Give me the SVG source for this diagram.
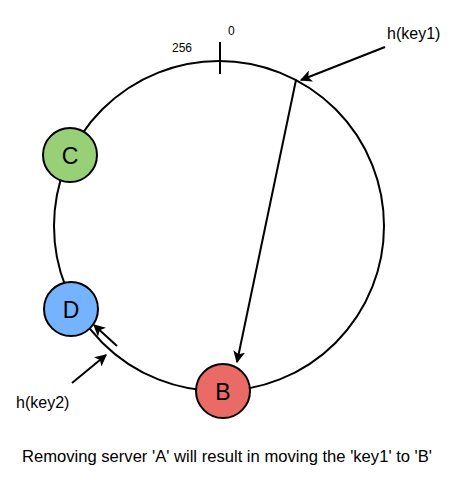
<svg xmlns="http://www.w3.org/2000/svg" width="451" height="480" viewBox="0 0 451 480">
<style>
.ln{fill:none;stroke:#000;stroke-width:2}
.nd{stroke:#000;stroke-width:2}
.t{font-family:"Liberation Sans",Arial,sans-serif;fill:#000}
.lbl{font-size:23px;text-anchor:middle;dominant-baseline:central}
</style>
<defs>
<marker id="ah" viewBox="0 0 10 10" refX="9" refY="5" markerWidth="6" markerHeight="6" orient="auto" markerUnits="strokeWidth">
<path d="M0,0 L10,5 L0,10 L2.5,5 Z" fill="#000"/>
</marker>
</defs>
<rect width="451" height="480" fill="#fff"/>
<g id="ring">
<circle cx="219" cy="226" r="165" class="ln"/>
<line x1="220" y1="42" x2="220" y2="74" class="ln"/>
<text x="228" y="35" class="t" font-size="12">0</text>
<text x="172" y="52" class="t" font-size="12">256</text>
</g>
<g id="connectors">
<line x1="385" y1="47" x2="301" y2="80" class="ln" marker-end="url(#ah)"/>
<line x1="296" y1="80" x2="237" y2="362" class="ln" marker-end="url(#ah)"/>
<line x1="72" y1="383" x2="106" y2="355" class="ln" marker-end="url(#ah)"/>
<line x1="117" y1="346" x2="94" y2="325" class="ln" marker-end="url(#ah)"/>
</g>
<g id="node-C">
<circle cx="70" cy="155" r="27" fill="#97D077" class="nd"/>
<text x="70" y="156" class="t lbl">C</text>
</g>
<g id="node-D">
<circle cx="71" cy="309" r="27" fill="#75B3FF" class="nd"/>
<text x="71" y="310" class="t lbl">D</text>
</g>
<g id="node-B">
<circle cx="223" cy="391" r="27" fill="#EA6B66" class="nd"/>
<text x="223" y="392" class="t lbl">B</text>
</g>
<g id="labels">
<text x="387" y="39" class="t" font-size="16">h(key1)</text>
<text x="16" y="408" class="t" font-size="16">h(key2)</text>
<text x="227" y="462" class="t" font-size="16.6" text-anchor="middle">Removing server 'A' will result in moving the 'key1' to 'B'</text>
</g>
</svg>
